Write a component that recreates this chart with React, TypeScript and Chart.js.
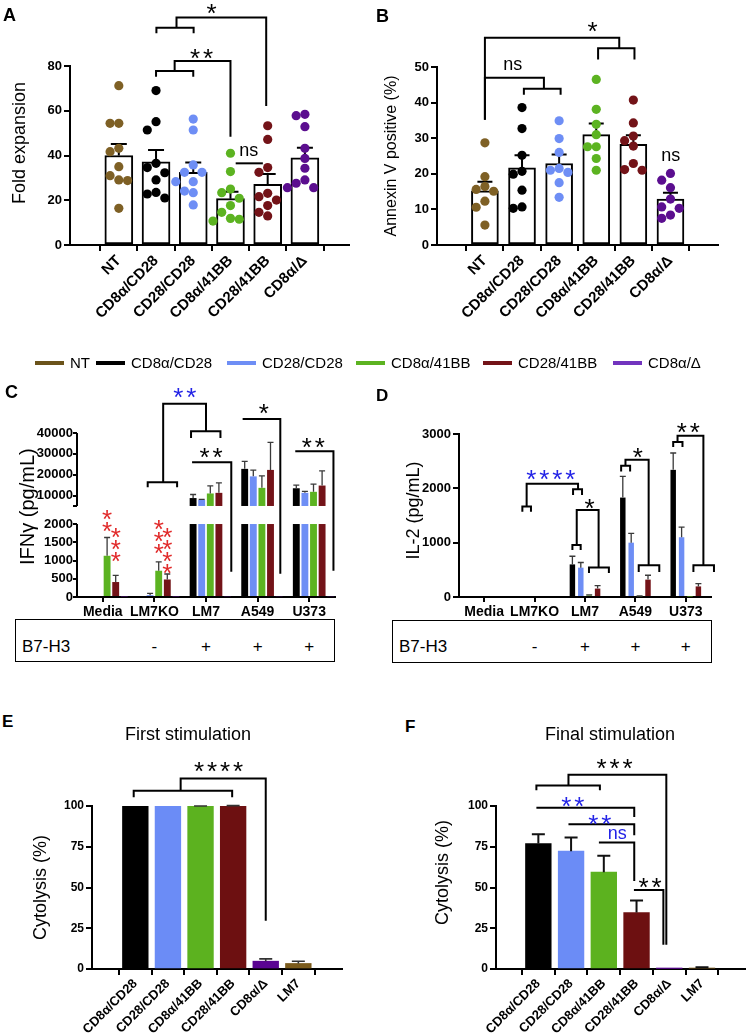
import React, { useEffect, useRef } from 'react';
import { Chart, registerables, LinearScale } from 'chart.js';

Chart.register(...registerables);

const FONT = "'Liberation Sans', Arial, Helvetica, sans-serif";
Chart.defaults.font.family = FONT;
Chart.defaults.color = '#000';

// ---------------- shared groups ----------------
const groupNames = ['NT', 'CD8α/CD28', 'CD28/CD28', 'CD8α/41BB', 'CD28/41BB', 'CD8α/Δ'];
const groupColors = ['#7e6025', '#000000', '#6e8ef5', '#5cb321', '#731318', '#5b0e8f'];
const legendColors = ['#6b531a', '#000000', '#6e8ef5', '#5cb321', '#731318', '#7234be'];
const STAR_BLUE = '#2323e6';
const STAR_RED = '#e12a2a';

// ---------------- Panel A: fold expansion ----------------
const foldNT = [71.2, 54.4, 54.4, 43.2, 41.7, 35.0, 31.0, 28.8, 29.1, 16.4];
const foldCD8aCD28 = [69.0, 55.1, 51.4, 36.5, 34.6, 32.3, 29.1, 23.5, 22.8, 21.0];
const foldCD28CD28 = [56.3, 51.4, 35.8, 32.5, 32.5, 28.3, 28.3, 24.1, 23.4, 17.9];
const foldCD8a41BB = [41.0, 32.8, 25.0, 23.4, 20.9, 17.6, 14.6, 11.9, 11.5, 10.7];
const foldCD2841BB = [53.3, 47.2, 34.6, 32.5, 23.1, 21.6, 20.1, 17.6, 14.6, 13.0];
const foldCD8aD = [58.4, 57.8, 52.9, 43.2, 38.7, 34.3, 29.1, 27.6, 25.6, 25.6];
const foldMean = [40.0, 37.2, 32.5, 20.7, 27.1, 39.0];
const foldSem = [5.1, 5.3, 4.4, 3.1, 4.6, 4.5];
const foldTicks = [0, 20, 40, 60, 80];

// ---------------- Panel B: annexin V ----------------
const annexNT = [28.7, 19.2, 16.4, 15.1, 15.6, 12.3, 10.6, 5.6];
const annexCD8aCD28 = [38.6, 32.7, 25.2, 20.7, 19.9, 15.4, 10.3, 10.7];
const annexCD28CD28 = [34.9, 29.9, 26.0, 21.0, 21.5, 20.4, 17.5, 13.4];
const annexCD8a41BB = [46.5, 38.1, 33.9, 31.0, 27.6, 27.6, 24.3, 21.0];
const annexCD2841BB = [40.7, 34.3, 29.3, 30.6, 27.8, 22.9, 21.0, 21.2];
const annexCD8aD = [18.2, 20.1, 16.1, 12.9, 10.3, 10.7, 7.5, 8.4];
const annexMean = [15.2, 21.7, 22.9, 31.0, 28.3, 12.9];
const annexSem = [2.6, 3.5, 2.5, 3.1, 2.5, 1.8];
const annexTicks = [0, 10, 20, 30, 40, 50];

// ---------------- Panel C: IFN-gamma ----------------
const stimCats = ['Media', 'LM7KO', 'LM7', 'A549', 'U373'];
const b7h3 = ['', '-', '+', '+', '+'];
const ifnNT = [0, 0, 0, 0, 0];
const ifnCD8aCD28 = [0, 0, 8800, 22800, 13500];
const ifnCD28CD28 = [0, 50, 7900, 19200, 11300];
const ifnCD8a41BB = [1130, 720, 11000, 13700, 11800];
const ifnCD2841BB = [410, 480, 11300, 22300, 14800];
const ifnCD8aD = [15, 15, 20, 20, 20];
const ifnSemCD8aCD28 = [0, 0, 1700, 3600, 1500];
const ifnSemCD28CD28 = [0, 50, 300, 3000, 700];
const ifnSemCD8a41BB = [500, 240, 3600, 5700, 3700];
const ifnSemCD2841BB = [180, 150, 4800, 13200, 7000];
const ifnTicks = [0, 500, 1000, 1500, 2000, 5000, 10000, 20000, 30000, 40000];
const ifnTickLabels = ['0', '500', '1000', '1500', '2000', '', '10000', '20000', '30000', '40000'];

// ---------------- Panel D: IL-2 ----------------
const il2NT = [0, 0, 0, 0, 0];
const il2CD8aCD28 = [0, 0, 600, 1830, 2340];
const il2CD28CD28 = [0, 0, 540, 1000, 1100];
const il2CD8a41BB = [0, 0, 30, 15, 8];
const il2CD2841BB = [0, 0, 155, 320, 195];
const il2CD8aD = [0, 0, 0, 0, 0];
const il2SemCD8aCD28 = [0, 0, 150, 390, 310];
const il2SemCD28CD28 = [0, 0, 95, 170, 185];
const il2SemCD8a41BB = [0, 0, 10, 5, 0];
const il2SemCD2841BB = [0, 0, 55, 80, 50];
const il2Ticks = [0, 1000, 2000, 3000];

// ---------------- Panels E/F: cytolysis ----------------
const cytoNames = ['CD8α/CD28', 'CD28/CD28', 'CD8α/41BB', 'CD28/41BB', 'CD8α/Δ', 'LM7'];
const cytoColors = ['#000000', '#6b8cf6', '#5cb21f', '#6d1011', '#5a0492', '#7b5b1c'];
const firstMean = [100, 100, 99.8, 100, 4.8, 3.4];
const firstSem = [0, 0, 0.2, 0.2, 1.4, 1.4];
const finalMean = [77.0, 72.3, 59.4, 34.6, 0.3, 0.5];
const finalSem = [5.7, 8.4, 10.1, 7.4, 0, 0.5];
const cytoTicks = [0, 25, 50, 75, 100];

// ---------------- significance annotations (data coordinates) ----------------
const annA = {
  lines: [
    [[1, 75.2], [1, 77.8], [2, 77.8], [2, 75.2]],
    [[1.5, 77.8], [1.5, 82.2], [3, 82.2], [3, 48.4]],
    [[1.01, 94.6], [1.01, 97.1], [2.01, 97.1], [2.01, 94.6]],
    [[1.55, 97.1], [1.55, 101.7], [3.96, 101.7], [3.96, 62.1]],
    [[3.14, 36.5], [3.87, 36.5]],
  ],
  marks: [
    { x: 2.22, y: 86.4, t: '**' },
    { x: 2.49, y: 106.5, t: '*' },
    { x: 3.49, y: 41.7, t: 'ns' },
  ],
};
const annB = {
  lines: [
    [[0, 35.2], [0, 47.0], [1.59, 47.0], [1.59, 43.9]],
    [[1.05, 42.2], [1.05, 43.9], [2.04, 43.9], [2.04, 42.2]],
    [[0, 35.2], [0, 58.2], [3.62, 58.2], [3.62, 55.3]],
    [[3.05, 52.1], [3.05, 55.3], [4.03, 55.3], [4.03, 52.1]],
  ],
  marks: [
    { x: 0.75, y: 50.5, t: 'ns' },
    { x: 2.9, y: 61.7, t: '*' },
    { x: 5.01, y: 24.8, t: 'ns' },
  ],
};
const annC = {
  lines: [
    [[0.87, 13990], [0.87, 16380], [1.44, 16380], [1.44, 13990]],
    [[1.17, 16380], [1.17, 54020], [2.0, 54020], [2.0, 40780]],
    [[1.71, 37590], [1.71, 40780], [2.28, 40780], [2.28, 37590]],
    [[1.73, 25950], [2.49, 25950], [2.49, 690]],
    [[2.71, 46680], [3.44, 46680], [3.44, 640]],
    [[3.73, 31210], [4.47, 31210], [4.47, 716]],
  ],
  marks: [
    { x: 1.59, y: 59900, t: '**', c: STAR_BLUE },
    { x: 2.1, y: 31200, t: '**' },
    { x: 3.12, y: 52270, t: '*' },
    { x: 4.08, y: 36000, t: '**' },
  ],
};
const redStarsC = [
  { cat: 0, ds: 3, n: 2, y: 1972 },
  { cat: 0, ds: 4, n: 3, y: 1147 },
  { cat: 1, ds: 3, n: 3, y: 1358 },
  { cat: 1, ds: 4, n: 4, y: 826 },
];
const annD = {
  lines: [
    [[0.757, 1571], [0.757, 1664], [0.928, 1664], [0.928, 1571]],
    [[0.842, 1664], [0.842, 2083], [1.862, 2083], [1.862, 1984]],
    [[1.763, 1879], [1.763, 1984], [1.941, 1984], [1.941, 1879]],
    [[1.75, 863], [1.75, 955], [1.914, 955], [1.914, 863]],
    [[1.836, 955], [1.836, 1602], [2.27, 1602], [2.27, 542]],
    [[2.079, 444], [2.079, 542], [2.474, 542], [2.474, 444]],
    [[2.717, 2310], [2.717, 2415], [2.895, 2415], [2.895, 2310]],
    [[2.803, 2415], [2.803, 2526], [3.263, 2526], [3.263, 585]],
    [[3.066, 462], [3.066, 585], [3.474, 585], [3.474, 462]],
    [[3.75, 2760], [3.75, 2853], [3.934, 2853], [3.934, 2760]],
    [[3.836, 2853], [3.836, 2970], [4.349, 2970], [4.349, 585]],
    [[4.151, 462], [4.151, 585], [4.559, 585], [4.559, 462]],
  ],
  marks: [
    { x: 1.32, y: 2280, t: '****', c: STAR_BLUE },
    { x: 2.09, y: 1756, t: '*' },
    { x: 3.05, y: 2680, t: '*' },
    { x: 4.05, y: 3142, t: '**' },
  ],
};
const annE = {
  lines: [
    [[-0.05, 105.3], [-0.05, 109.4], [2.97, 109.4], [2.97, 105.3]],
    [[1.39, 109.4], [1.39, 116.9], [4.0, 116.9], [4.0, 29.6]],
  ],
  marks: [{ x: 2.55, y: 125, t: '****' }],
};
const annF = {
  lines: [
    [[-0.06, 109.6], [-0.06, 112.6], [1.88, 112.6], [1.88, 109.6]],
    [[0.92, 112.6], [0.92, 119.1], [3.91, 119.1], [3.91, 14.9]],
    [[-0.06, 99], [2.93, 99], [2.93, 93.3]],
    [[0.92, 88.8], [2.93, 88.8], [2.93, 82]],
    [[1.85, 77.6], [2.93, 77.6], [2.93, 54]],
    [[2.92, 48.5], [3.82, 48.5], [3.82, 14.9]],
  ],
  marks: [
    { x: 2.33, y: 127, t: '***' },
    { x: 1.05, y: 103.9, t: '**', c: STAR_BLUE },
    { x: 1.88, y: 92.9, t: '**', c: STAR_BLUE },
    { x: 2.41, y: 82.7, t: 'ns', c: STAR_BLUE },
    { x: 3.41, y: 54, t: '**' },
  ],
};

// ---------------- layout ----------------
const boxA = { left: 0, top: 0, w: 373, h: 330 };
const plotA = { l: 70, r: 349, t: 66, b: 245 };
const boxB = { left: 373, top: 0, w: 373, h: 330 };
const plotB = { l: 64, r: 345, t: 67, b: 245 };
const boxC = { left: 0, top: 380, w: 373, h: 238 };
const plotC = { l: 77, r: 335, t: 53, b: 217 };
const boxD = { left: 373, top: 380, w: 373, h: 238 };
const plotD = { l: 86, r: 338, t: 54, b: 217 };
const boxE = { left: 0, top: 740, w: 373, h: 294 };
const plotE = { l: 92, r: 342, t: 66, b: 229 };
const boxF = { left: 373, top: 740, w: 373, h: 294 };
const plotF = { l: 123, r: 372, t: 66, b: 229 };

// ---------------- broken axis scale for IFN-gamma ----------------
const BREAK_LOW = 2000;
const BREAK_HIGH = 5000;
const AXIS_TOP = 40000;
const DEC_LOW = 0.445;
const DEC_HIGH = 0.555;
function brokenDec(v: number) {
  if (v <= BREAK_LOW) return (v / BREAK_LOW) * DEC_LOW;
  if (v <= BREAK_HIGH) return DEC_LOW + ((v - BREAK_LOW) / (BREAK_HIGH - BREAK_LOW)) * (DEC_HIGH - DEC_LOW);
  return DEC_HIGH + ((v - BREAK_HIGH) / (AXIS_TOP - BREAK_HIGH)) * (1 - DEC_HIGH);
}
function brokenVal(d: number) {
  if (d <= DEC_LOW) return (d / DEC_LOW) * BREAK_LOW;
  if (d <= DEC_HIGH) return BREAK_LOW + ((d - DEC_LOW) / (DEC_HIGH - DEC_LOW)) * (BREAK_HIGH - BREAK_LOW);
  return BREAK_HIGH + ((d - DEC_HIGH) / (1 - DEC_HIGH)) * (AXIS_TOP - BREAK_HIGH);
}
class BrokenScale extends LinearScale {
  static id = 'brokenLinear';
  static defaults = {};
  getPixelForValue(value: any) {
    if (value === null || value === undefined || isNaN(value)) return NaN;
    return this.getPixelForDecimal(brokenDec(value));
  }
  getValueForPixel(pixel: number) {
    return brokenVal(this.getDecimalForPixel(pixel));
  }
}
Chart.register(BrokenScale as any);

// ---------------- helpers ----------------
function frame(box: any, plot: any) {
  return {
    padding: { left: 0, top: plot.t, right: box.w - plot.r, bottom: 0 },
    yWidth: plot.l,
    xHeight: box.h - plot.b,
  };
}

function swarm(values: number[], pxPerY: number, pxPerX: number) {
  const diam = 9.5;
  const step = 10.5;
  const order = values.map((_, i) => i).sort((a, b) => values[b] - values[a]);
  const placed: { dx: number; y: number }[] = [];
  const offs = values.map(() => 0);
  for (const i of order) {
    const y = values[i] * pxPerY;
    for (const k of [0, -1, 1, -2, 2, -3, 3]) {
      const dx = k * step;
      if (placed.every((p) => (p.dx - dx) ** 2 + (p.y - y) ** 2 >= diam * diam)) {
        offs[i] = dx / pxPerX;
        placed.push({ dx, y });
        break;
      }
    }
  }
  return offs;
}

const STAR_SIZE = 26;
const STAR_PITCH = 13;
function drawStar(ctx: any, x: number, y: number, color: string) {
  ctx.fillStyle = color;
  ctx.font = `${STAR_SIZE}px ${FONT}`;
  ctx.textAlign = 'center';
  ctx.textBaseline = 'alphabetic';
  ctx.fillText('*', x, y + 0.575 * STAR_SIZE);
}

function drawAnn(chart: any, ann: any) {
  const { ctx } = chart;
  const xs = chart.scales.x;
  const ys = chart.scales.y;
  ctx.save();
  ctx.strokeStyle = '#000';
  ctx.lineWidth = 2;
  ctx.lineJoin = 'miter';
  ctx.lineCap = 'butt';
  ann.lines.forEach((pts: number[][]) => {
    ctx.beginPath();
    pts.forEach(([x, y], k) => {
      const px = xs.getPixelForValue(x);
      const py = ys.getPixelForValue(y);
      if (k === 0) ctx.moveTo(px, py);
      else ctx.lineTo(px, py);
    });
    ctx.stroke();
  });
  ann.marks.forEach((m: any) => {
    const px = xs.getPixelForValue(m.x);
    const py = ys.getPixelForValue(m.y);
    const color = m.c || '#000';
    if (/^\*+$/.test(m.t)) {
      const n = m.t.length;
      for (let k = 0; k < n; k++) drawStar(ctx, px + (k - (n - 1) / 2) * STAR_PITCH, py, color);
    } else {
      ctx.fillStyle = color;
      ctx.font = `18px ${FONT}`;
      ctx.textAlign = 'center';
      ctx.textBaseline = 'alphabetic';
      ctx.fillText(m.t, px, py + 0.26 * 18);
    }
  });
  ctx.restore();
}

function drawErrUp(chart: any, dsIndex: number, means: number[], sems: number[], capHalf: number, lw: number, color: string) {
  const { ctx } = chart;
  const ys = chart.scales.y;
  const meta = chart.getDatasetMeta(dsIndex);
  ctx.save();
  ctx.strokeStyle = color;
  ctx.lineWidth = lw;
  meta.data.forEach((el: any, i: number) => {
    if (!sems[i]) return;
    const x = el.x;
    const y0 = ys.getPixelForValue(means[i]);
    const y1 = ys.getPixelForValue(means[i] + sems[i]);
    ctx.beginPath();
    ctx.moveTo(x, y0);
    ctx.lineTo(x, y1);
    ctx.moveTo(x - capHalf, y1);
    ctx.lineTo(x + capHalf, y1);
    ctx.stroke();
  });
  ctx.restore();
}

function catLinearX(names: string[], min: number, max: number, fontSize: number, height: number) {
  return {
    type: 'linear',
    min,
    max,
    afterBuildTicks: (s: any) => {
      s.ticks = names.map((_, i) => ({ value: i }));
    },
    afterFit: (s: any) => {
      s.height = height;
    },
    ticks: {
      autoSkip: false,
      maxRotation: 45,
      minRotation: 45,
      padding: 1,
      color: '#000',
      font: { family: FONT, size: fontSize, weight: 'bold' },
      callback: (v: number) => names[Math.round(v)] ?? '',
    },
    grid: { display: true, drawOnChartArea: false, drawTicks: true, tickLength: 6, color: '#000', lineWidth: 2 },
    border: { display: true, color: '#000', width: 2 },
  };
}

function valueY(o: any) {
  return {
    type: o.type || 'linear',
    min: o.ticks[0],
    max: o.ticks[o.ticks.length - 1],
    afterBuildTicks: (s: any) => {
      s.ticks = o.ticks.map((v: number) => ({ value: v }));
    },
    afterFit: (s: any) => {
      s.width = o.width;
    },
    ticks: {
      autoSkip: false,
      padding: o.tickPad ?? 2,
      color: '#000',
      font: { family: FONT, size: o.tickSize, weight: 'bold' },
      callback: (_v: number, i: number) => o.labels[i],
    },
    grid: {
      display: true,
      drawOnChartArea: false,
      drawTicks: true,
      tickLength: o.tickLen ?? 6,
      color: '#000',
      lineWidth: 2,
    },
    border: { display: o.border !== false, color: '#000', width: 2 },
    title: {
      display: true,
      text: o.title,
      color: '#000',
      font: { family: FONT, size: o.titleSize },
      padding: { top: o.titlePad, bottom: 0 },
    },
  };
}

const baseOptions = {
  responsive: false,
  animation: false,
  events: [],
  plugins: { legend: { display: false }, tooltip: { enabled: false }, title: { display: false } },
};

function makeDotChart(o: any) {
  const f = frame(o.box, o.plot);
  const yMax = o.yTicks[o.yTicks.length - 1];
  const pxX = (o.plot.r - o.plot.l) / (o.xMax - o.xMin);
  const pxY = (o.plot.b - o.plot.t) / yMax;
  const bar = {
    type: 'bar',
    data: o.mean.map((y: number, i: number) => ({ x: i, y })),
    backgroundColor: '#ffffff',
    borderColor: '#000000',
    borderWidth: 2,
    borderSkipped: false,
    barThickness: o.barW,
    order: 2,
  };
  const dots = o.groups.map((vals: number[], i: number) => {
    const offs = swarm(vals, pxY, pxX);
    return {
      type: 'scatter',
      data: vals.map((v, j) => ({ x: i + offs[j], y: v })),
      backgroundColor: groupColors[i],
      borderWidth: 0,
      pointRadius: 4.6,
      order: 1,
    };
  });
  return {
    type: 'bar',
    data: { datasets: [bar, ...dots] },
    options: {
      ...baseOptions,
      layout: { padding: f.padding },
      scales: {
        x: catLinearX(groupNames, o.xMin, o.xMax, 15, f.xHeight),
        y: valueY({
          ticks: o.yTicks,
          labels: o.yTicks.map(String),
          width: f.yWidth,
          tickSize: 13,
          title: o.title,
          titleSize: o.titleSize,
          titlePad: o.titlePad,
        }),
      },
    },
    plugins: [
      {
        id: 'extras',
        afterDatasetDraw(chart: any, args: any) {
          if (args.index === 0) drawErrUp(chart, 0, o.mean, o.sem, o.capHalf, 2, '#000');
        },
        afterDraw(chart: any) {
          drawAnn(chart, o.ann);
        },
      },
    ],
  };
}

function makeGroupedChart(o: any) {
  const f = frame(o.box, o.plot);
  return {
    type: 'bar',
    data: {
      labels: stimCats,
      datasets: o.series.map((vals: number[], k: number) => ({
        data: vals,
        backgroundColor: groupColors[k],
        borderWidth: 0,
        barPercentage: o.barPct,
        categoryPercentage: 1,
      })),
    },
    options: {
      ...baseOptions,
      layout: { padding: f.padding },
      scales: {
        x: {
          type: 'category',
          offset: true,
          afterFit: (s: any) => {
            s.height = f.xHeight;
          },
          ticks: {
            autoSkip: false,
            maxRotation: 0,
            minRotation: 0,
            padding: 2,
            color: '#000',
            font: { family: FONT, size: 14, weight: 'bold' },
          },
          grid: { display: true, offset: false, drawOnChartArea: false, tickLength: 5, color: '#000', lineWidth: 2 },
          border: { display: true, color: '#000', width: 2 },
        },
        y: valueY({
          type: o.yType,
          ticks: o.yTicks,
          labels: o.yLabels,
          width: f.yWidth,
          tickSize: 13,
          tickLen: o.tickLen,
          tickPad: o.tickPad,
          title: o.title,
          titleSize: o.titleSize,
          titlePad: o.titlePad,
          border: !o.broken,
        }),
      },
    },
    plugins: [
      {
        id: 'extras',
        afterDatasetsDraw(chart: any) {
          const { ctx, chartArea } = chart;
          const ys = chart.scales.y;
          ctx.save();
          if (o.broken) {
            const yHi = ys.getPixelForValue(BREAK_HIGH);
            const yLo = ys.getPixelForValue(BREAK_LOW);
            ctx.fillStyle = '#ffffff';
            ctx.fillRect(chartArea.left + 1, yHi, chartArea.right - chartArea.left + 2, yLo - yHi);
            ctx.strokeStyle = '#000';
            ctx.lineWidth = 2;
            const x = chartArea.left;
            ctx.beginPath();
            ctx.moveTo(x, ys.getPixelForValue(0) + 1);
            ctx.lineTo(x, yLo);
            ctx.moveTo(x, yHi);
            ctx.lineTo(x, ys.getPixelForValue(AXIS_TOP));
            ctx.stroke();
          }
          ctx.restore();
          o.series.forEach((vals: number[], k: number) => {
            if (o.sems[k]) drawErrUp(chart, k, vals, o.sems[k], 3, 1.3, '#3a3a3a');
          });
          if (o.starCols) {
            ctx.save();
            o.starCols.forEach((s: any) => {
              const el = chart.getDatasetMeta(s.ds).data[s.cat];
              const y0 = ys.getPixelForValue(s.y);
              for (let k = 0; k < s.n; k++) drawStar(ctx, el.x, y0 - k * 12, STAR_RED);
            });
            ctx.restore();
          }
        },
        afterDraw(chart: any) {
          drawAnn(chart, o.ann);
        },
      },
    ],
  };
}

function makeCytoChart(o: any) {
  const f = frame(o.box, o.plot);
  return {
    type: 'bar',
    data: {
      datasets: [
        {
          data: o.mean.map((y: number, i: number) => ({ x: i, y })),
          backgroundColor: cytoColors,
          borderWidth: 0,
          barThickness: 25.7,
        },
      ],
    },
    options: {
      ...baseOptions,
      layout: { padding: f.padding },
      scales: {
        x: catLinearX(cytoNames, o.xMin, o.xMax, 13, f.xHeight),
        y: valueY({
          ticks: cytoTicks,
          labels: cytoTicks.map(String),
          width: f.yWidth,
          tickSize: 12,
          title: o.title,
          titleSize: 18,
          titlePad: o.titlePad,
        }),
      },
    },
    plugins: [
      {
        id: 'extras',
        afterDatasetsDraw(chart: any) {
          drawErrUp(chart, 0, o.mean, o.sem, 6.5, o.errW, o.errColor);
        },
        afterDraw(chart: any) {
          drawAnn(chart, o.ann);
        },
      },
    ],
  };
}

// ---------------- chart builders ----------------
const makeA = () =>
  makeDotChart({
    box: boxA,
    plot: plotA,
    xMin: -0.687,
    xMax: 5.56,
    yTicks: foldTicks,
    groups: [foldNT, foldCD8aCD28, foldCD28CD28, foldCD8a41BB, foldCD2841BB, foldCD8aD],
    mean: foldMean,
    sem: foldSem,
    barW: 28,
    capHalf: 8,
    title: '     Fold expansion',
    titleSize: 18,
    titlePad: 9,
    ann: annA,
  });

const makeB = () =>
  makeDotChart({
    box: boxB,
    plot: plotB,
    xMin: -0.66,
    xMax: 5.65,
    yTicks: annexTicks,
    groups: [annexNT, annexCD8aCD28, annexCD28CD28, annexCD8a41BB, annexCD2841BB, annexCD8aD],
    mean: annexMean,
    sem: annexSem,
    barW: 27,
    capHalf: 7.5,
    title: 'Annexin V positive (%)',
    titleSize: 16,
    titlePad: 8.5,
    ann: annB,
  });

const makeC = () =>
  makeGroupedChart({
    box: boxC,
    plot: plotC,
    yType: 'brokenLinear',
    broken: true,
    yTicks: ifnTicks,
    yLabels: ifnTickLabels,
    tickLen: 4,
    tickPad: 0,
    series: [ifnNT, ifnCD8aCD28, ifnCD28CD28, ifnCD8a41BB, ifnCD2841BB, ifnCD8aD],
    sems: [null, ifnSemCD8aCD28, ifnSemCD28CD28, ifnSemCD8a41BB, ifnSemCD2841BB, null],
    barPct: 0.8,
    title: '   IFNγ (pg/mL)',
    titleSize: 20,
    titlePad: 16,
    ann: annC,
    starCols: redStarsC,
  });

const makeD = () =>
  makeGroupedChart({
    box: boxD,
    plot: plotD,
    yType: 'linear',
    broken: false,
    yTicks: il2Ticks,
    yLabels: il2Ticks.map(String),
    tickLen: 6,
    tickPad: 2,
    series: [il2NT, il2CD8aCD28, il2CD28CD28, il2CD8a41BB, il2CD2841BB, il2CD8aD],
    sems: [null, il2SemCD8aCD28, il2SemCD28CD28, il2SemCD8a41BB, il2SemCD2841BB, null],
    barPct: 0.65,
    title: '  IL-2 (pg/mL)',
    titleSize: 18,
    titlePad: 30,
    ann: annD,
  });

const makeE = () =>
  makeCytoChart({
    box: boxE,
    plot: plotE,
    xMin: -0.69,
    xMax: 5.7,
    mean: firstMean,
    sem: firstSem,
    title: 'Cytolysis (%)',
    titlePad: 30,
    errW: 1.6,
    errColor: '#333',
    ann: annE,
  });

const makeF = () =>
  makeCytoChart({
    box: boxF,
    plot: plotF,
    xMin: -0.66,
    xMax: 5.68,
    mean: finalMean,
    sem: finalSem,
    title: '      Cytolysis (%)',
    titlePad: 59,
    errW: 2,
    errColor: '#111',
    ann: annF,
  });

// ---------------- React components ----------------
function ChartCanvas({ box, make }: { box: any; make: () => any }) {
  const ref = useRef<HTMLCanvasElement>(null);
  useEffect(() => {
    const chart = new Chart(ref.current as HTMLCanvasElement, make());
    return () => chart.destroy();
  }, []);
  return (
    <canvas
      ref={ref}
      width={box.w}
      height={box.h}
      style={{ position: 'absolute', left: box.left, top: box.top, width: box.w, height: box.h }}
    />
  );
}

function Txt({ x, base, size, bold, color, center, children }: any) {
  const style: any = {
    position: 'absolute',
    left: x,
    top: base - 0.847 * size,
    fontFamily: FONT,
    fontSize: size,
    lineHeight: `${size}px`,
    fontWeight: bold ? 700 : 400,
    color: color || '#000',
    whiteSpace: 'nowrap',
  };
  if (center) style.transform = 'translateX(-50%)';
  return <div style={style}>{children}</div>;
}

const legendTextX = [70, 131, 262, 391, 518, 648];

function B7Table({ box, plot, boxLeft, boxTop }: any) {
  const cw = (plot.r - plot.l) / stimCats.length;
  return (
    <>
      <div
        style={{
          position: 'absolute',
          left: boxLeft,
          top: boxTop,
          width: 320,
          height: 43,
          border: '1.6px solid #000',
          boxSizing: 'border-box',
        }}
      />
      <Txt x={boxLeft + 7} base={652} size={17}>
        B7-H3
      </Txt>
      {b7h3.map((s, i) =>
        s ? (
          <Txt key={i} x={box.left + plot.l + (i + 0.5) * cw} base={652} size={17} center>
            {s}
          </Txt>
        ) : null
      )}
    </>
  );
}

export default function App() {
  return (
    <div
      style={{
        position: 'absolute',
        left: 0,
        top: 0,
        width: 746,
        height: 1034,
        background: '#fff',
        overflow: 'hidden',
        fontFamily: FONT,
      }}
    >
      <ChartCanvas box={boxA} make={makeA} />
      <ChartCanvas box={boxB} make={makeB} />
      <ChartCanvas box={boxC} make={makeC} />
      <ChartCanvas box={boxD} make={makeD} />
      <ChartCanvas box={boxE} make={makeE} />
      <ChartCanvas box={boxF} make={makeF} />

      <Txt x={3} base={21} size={18} bold>A</Txt>
      <Txt x={376} base={22} size={18} bold>B</Txt>
      <Txt x={5} base={398} size={18} bold>C</Txt>
      <Txt x={376} base={401} size={17} bold>D</Txt>
      <Txt x={2} base={727} size={17} bold>E</Txt>
      <Txt x={405} base={732} size={17} bold>F</Txt>

      {groupNames.map((name, i) => (
        <React.Fragment key={name}>
          <div
            style={{
              position: 'absolute',
              left: legendTextX[i] - 35,
              top: 360.5,
              width: 29,
              height: 4.5,
              background: legendColors[i],
            }}
          />
          <Txt x={legendTextX[i]} base={368} size={15}>
            {name}
          </Txt>
        </React.Fragment>
      ))}

      <B7Table box={boxC} plot={plotC} boxLeft={15} boxTop={619} />
      <B7Table box={boxD} plot={plotD} boxLeft={392} boxTop={620} />

      <Txt x={188} base={740} size={18} center>
        First stimulation
      </Txt>
      <Txt x={610} base={740} size={18} center>
        Final stimulation
      </Txt>
    </div>
  );
}
